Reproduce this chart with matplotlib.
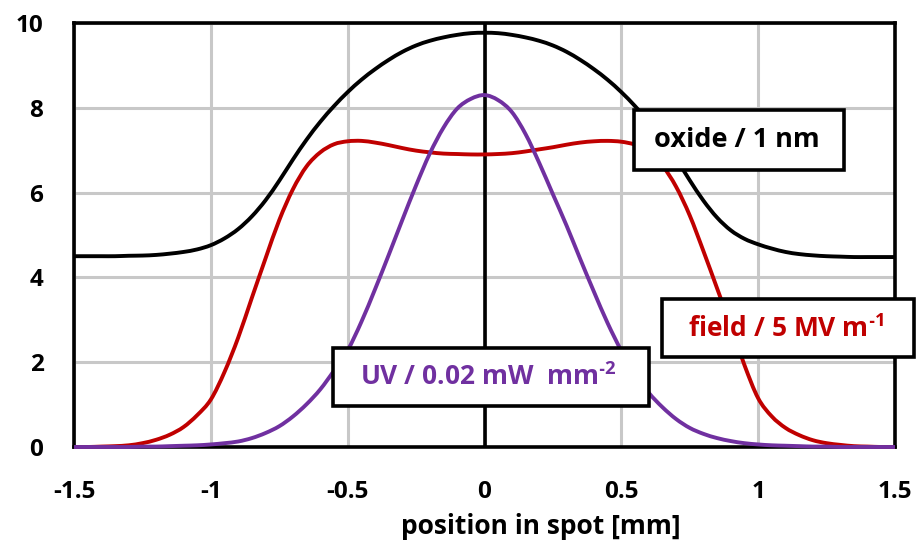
import matplotlib
matplotlib.use("Agg")
import matplotlib.pyplot as plt
from matplotlib.path import Path
from matplotlib.patches import PathPatch, Rectangle
import numpy as np

plt.rcParams['font.family'] = ['Open Sans', 'DejaVu Sans']
plt.rcParams['mathtext.fontset'] = 'custom'
plt.rcParams['mathtext.rm'] = 'Open Sans'
plt.rcParams['mathtext.bf'] = 'Open Sans:bold'

# position in spot [mm]
position = [round(-1.5 + 0.05 * i, 2) for i in range(61)]

oxide = [4.50, 4.50, 4.50, 4.50, 4.51, 4.515, 4.53, 4.56, 4.60, 4.66,
         4.76, 4.92, 5.14, 5.44, 5.82, 6.28, 6.78, 7.25, 7.67, 8.04,
         8.37, 8.66, 8.91, 9.13, 9.32, 9.47, 9.58, 9.66, 9.72, 9.76,
         9.77,
         9.76, 9.72, 9.66, 9.58, 9.47, 9.32, 9.13, 8.91, 8.66, 8.37,
         8.04, 7.67, 7.26, 6.80, 6.29, 5.81, 5.41, 5.11, 4.91, 4.78,
         4.68, 4.60, 4.55, 4.52, 4.50, 4.49, 4.48, 4.48, 4.48, 4.48]

field = [0.00, 0.00, 0.01, 0.02, 0.04, 0.09, 0.17, 0.29, 0.47, 0.75,
         1.12, 1.77, 2.58, 3.52, 4.45, 5.35, 6.08, 6.62, 6.95, 7.14,
         7.21, 7.22, 7.18, 7.12, 7.05, 6.99, 6.95, 6.92, 6.91, 6.90,
         6.90,
         6.91, 6.93, 6.97, 7.02, 7.07, 7.13, 7.18, 7.21, 7.22, 7.20,
         7.13, 6.97, 6.64, 6.14, 5.46, 4.62, 3.74, 2.85, 1.93, 1.15,
         0.72, 0.45, 0.28, 0.16, 0.09, 0.05, 0.02, 0.01, 0.00, 0.00]

uv = [0.00, 0.00, 0.00, 0.00, 0.00, 0.01, 0.01, 0.02, 0.03, 0.04,
      0.06, 0.09, 0.13, 0.21, 0.33, 0.49, 0.72, 1.01, 1.36, 1.80,
      2.28, 2.95, 3.72, 4.53, 5.36, 6.17, 6.92, 7.53, 7.98, 8.21,
      8.30,
      8.18, 7.90, 7.38, 6.70, 5.96, 5.22, 4.43, 3.66, 2.92, 2.27,
      1.72, 1.28, 0.94, 0.66, 0.45, 0.31, 0.21, 0.14, 0.09, 0.06,
      0.04, 0.03, 0.02, 0.01, 0.01, 0.00, 0.00, 0.00, 0.00, 0.00]

x_ticks = [-1.5, -1, -0.5, 0, 0.5, 1, 1.5]
x_ticklabels = ['-1.5', '-1', '-0.5', '0', '0.5', '1', '1.5']
y_ticks = [0, 2, 4, 6, 8, 10]

label_oxide = 'oxide / 1 nm'
label_field = 'field / 5 MV m$^{\\mathbf{\u20101}}$'
label_uv = 'UV / 0.02 mW  mm$^{\\mathbf{\u20102}}$'
x_title = 'position in spot [mm]'

c_oxide = '#000000'
c_field = '#C00000'
c_uv = '#7030A0'


def smooth_path(xs, ys):
    """Excel-style smoothed line: cubic Bezier through every data point."""
    p = np.column_stack([xs, ys]).astype(float)
    n = len(p)
    verts = [p[0]]
    codes = [Path.MOVETO]
    for i in range(n - 1):
        p0 = p[max(i - 1, 0)]
        p1 = p[i]
        p2 = p[i + 1]
        p3 = p[min(i + 2, n - 1)]
        c1 = p1 + (p2 - p0) / 6.0
        c2 = p2 - (p3 - p1) / 6.0
        verts += [c1, c2, p2]
        codes += [Path.CURVE4] * 3
    return Path(np.array(verts), codes)


fig = plt.figure(figsize=(9.16, 5.42), dpi=100)
ax = fig.add_axes([74/916, 95/542, 821/916, 424/542])

ax.set_xlim(-1.5, 1.5)
ax.set_ylim(0, 10)
ax.set_xticks(x_ticks)
ax.set_xticklabels(x_ticklabels)
ax.set_yticks(y_ticks)
ax.grid(True, color='#C8C8C8', lw=2.2, zorder=0)
ax.set_axisbelow(True)
ax.tick_params(length=0, labelsize=17.5)
ax.tick_params(axis='y', pad=22)
ax.tick_params(axis='x', pad=24)
for lab in ax.get_xticklabels() + ax.get_yticklabels():
    lab.set_fontweight('bold')
for sp in ax.spines.values():
    sp.set_linewidth(2.6)
    sp.set_color('black')

ax.axvline(0, color='black', lw=2.6, zorder=1.5)

for ys, col in [(oxide, c_oxide), (field, c_field), (uv, c_uv)]:
    ax.add_patch(PathPatch(smooth_path(position, ys), fill=False, ec=col,
                           lw=2.8, zorder=3, clip_on=False,
                           capstyle='butt', joinstyle='round'))

# label boxes (layout only)
boxes = [
    ((0.546, 6.53), 0.768, 1.42, label_oxide, c_oxide, 0.921, 7.25, 19.5),
    ((0.649, 2.12), 0.920, 1.37, label_field, c_field, 1.102, 2.79, 19),
    ((-0.554, 0.96), 1.155, 1.37, label_uv, c_uv, 0.013, 1.65, 19),
]
for (x0, y0), w, h, txt, col, tx, ty, fs in boxes:
    ax.add_patch(Rectangle((x0, y0), w, h, fc='white', ec='black', lw=2.6,
                           zorder=5, clip_on=False))
    ax.text(tx, ty, txt, color=col, fontsize=fs, fontweight='bold',
            ha='center', va='center', zorder=6, clip_on=False)

fig.text(541/916, 15/542, x_title, fontsize=19, fontweight='bold',
         ha='center', va='center')

fig.savefig('out.png', dpi=100)
